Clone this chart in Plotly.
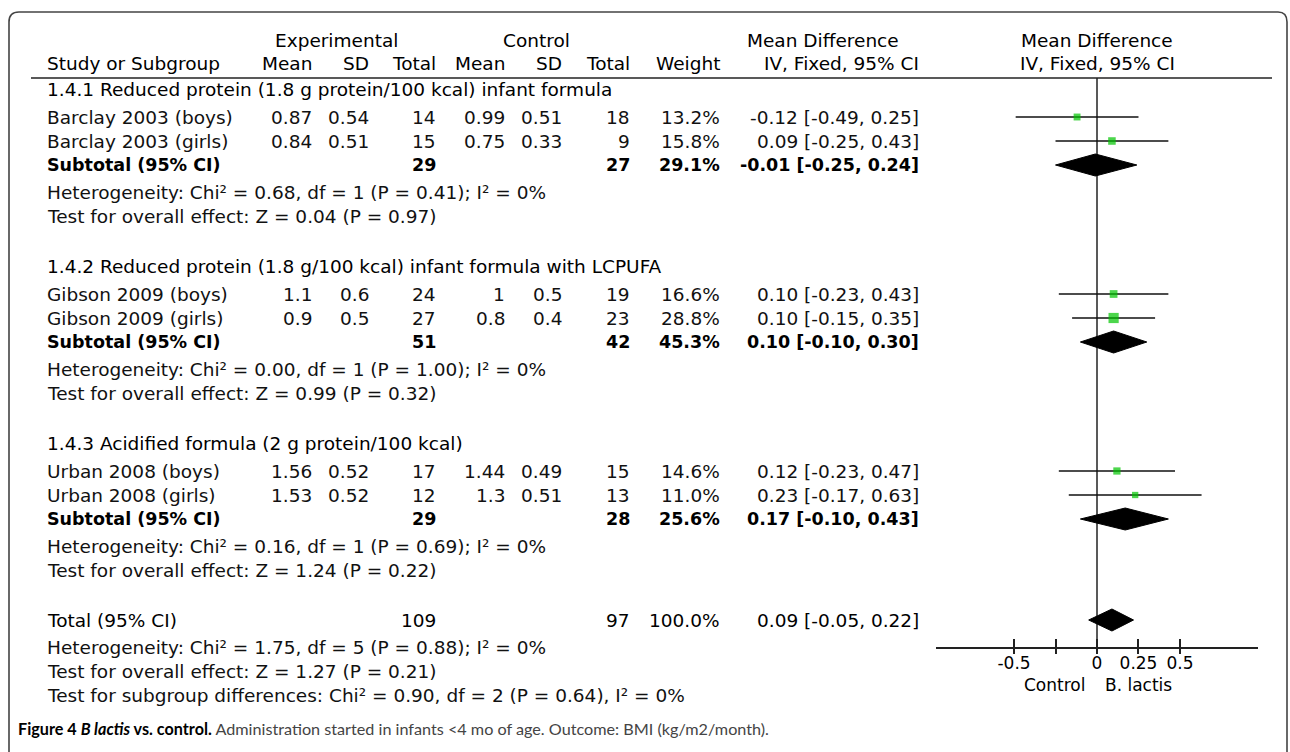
import plotly.graph_objects as go
import math

W, H = 1290, 752

# ---------------- data ----------------
group_titles = [
    "1.4.1 Reduced protein (1.8 g protein/100 kcal) infant formula",
    "1.4.2 Reduced protein (1.8 g/100 kcal) infant formula with LCPUFA",
    "1.4.3 Acidified formula (2 g protein/100 kcal)",
]
study_group = [0, 0, 1, 1, 2, 2]
study_names = ["Barclay 2003 (boys)", "Barclay 2003 (girls)",
               "Gibson 2009 (boys)", "Gibson 2009 (girls)",
               "Urban 2008 (boys)", "Urban 2008 (girls)"]
exp_mean = [0.87, 0.84, 1.1, 0.9, 1.56, 1.53]
exp_sd = [0.54, 0.51, 0.6, 0.5, 0.52, 0.52]
exp_n = [14, 15, 24, 27, 17, 12]
ctrl_mean = [0.99, 0.75, 1, 0.8, 1.44, 1.3]
ctrl_sd = [0.51, 0.33, 0.5, 0.4, 0.49, 0.51]
ctrl_n = [18, 9, 19, 23, 15, 13]
weight = [13.2, 15.8, 16.6, 28.8, 14.6, 11.0]
md = [-0.12, 0.09, 0.10, 0.10, 0.12, 0.23]
md_lo = [-0.49, -0.25, -0.23, -0.15, -0.23, -0.17]
md_hi = [0.25, 0.43, 0.43, 0.35, 0.47, 0.63]

sub_exp_n = [29, 51, 29]
sub_ctrl_n = [27, 42, 28]
sub_weight = [29.1, 45.3, 25.6]
sub_md = [-0.01, 0.10, 0.17]
sub_lo = [-0.25, -0.10, -0.10]
sub_hi = [0.24, 0.30, 0.43]
sub_het = ["Heterogeneity: Chi² = 0.68, df = 1 (P = 0.41); I² = 0%",
           "Heterogeneity: Chi² = 0.00, df = 1 (P = 1.00); I² = 0%",
           "Heterogeneity: Chi² = 0.16, df = 1 (P = 0.69); I² = 0%"]
sub_test = ["Test for overall effect: Z = 0.04 (P = 0.97)",
            "Test for overall effect: Z = 0.99 (P = 0.32)",
            "Test for overall effect: Z = 1.24 (P = 0.22)"]

total_exp_n = 109
total_ctrl_n = 97
total_weight = 100.0
total_md = 0.09
total_lo = -0.05
total_hi = 0.22
total_het = "Heterogeneity: Chi² = 1.75, df = 5 (P = 0.88); I² = 0%"
total_test = "Test for overall effect: Z = 1.27 (P = 0.21)"
subgroup_test = "Test for subgroup differences: Chi² = 0.90, df = 2 (P = 0.64), I² = 0%"

tick_vals = [-0.5, -0.25, 0, 0.25, 0.5]
tick_text = ["-0.5", "", "0", "0.25", "0.5"]
left_label = "Control"
right_label = "B. lactis"
caption = ("<span style='color:#000'><b>Figure 4 <i>B lactis</i> vs. control.</b></span> "
           "Administration started in infants &lt;4 mo of age. Outcome: BMI (kg/m2/month).")

# ---------------- layout constants ----------------
FONT = "'DejaVu Sans', Verdana, sans-serif"
FS = 18.5
FS_BOLD = 17.5
GREEN = "#00c400"
X_RANGE = [-0.97, 0.97]
PLOT_L, PLOT_R = 936, 1258
AXIS_Y = 648
HEADER_LINE_Y = 78

# column anchors (pixels)
COL_LABEL = 45
COL_EM, COL_ESD, COL_EN = 314, 371, 438
COL_CM, COL_CSD, COL_CN = 507, 564, 632
COL_W, COL_CI = 722, 921
PLOT_HDR = 1097

# row layout
rows = []
y = 89
for g in range(3):
    rows.append(("group", g, y)); y += 28
    for i, sg in enumerate(study_group):
        if sg == g:
            rows.append(("study", i, y)); y += 24
    rows.append(("sub", g, y)); y += 27
    rows.append(("het", g, y)); y += 24
    rows.append(("test", g, y)); y += 50
rows.append(("total", None, y)); y += 27
rows.append(("thet", None, y)); y += 24
rows.append(("ttest", None, y)); y += 24
rows.append(("sgtest", None, y))

def fmt(v):
    return f"{v:g}"

def ci_text(m, lo, hi):
    return f"{m:.2f} [{lo:.2f}, {hi:.2f}]"

annotations = []

def txt(x, yv, s, anchor="left", weight=400, size=None, xref="paper", color="#000"):
    if size is None:
        size = FS_BOLD if weight >= 700 else FS
    annotations.append(dict(
        x=x / W if xref == "paper" else x, y=yv, xref=xref, yref="y",
        text=s, showarrow=False, xanchor=anchor, yanchor="middle",
        font=dict(family=FONT, size=size, color=color, weight=weight)))

HW = 400  # header weight
BW = 700  # subtotal weight
# headers
txt(336, 40, "Experimental", "center", HW)
txt(536, 40, "Control", "center", HW)
txt(823, 40, "Mean Difference", "center", HW)
txt(PLOT_HDR, 40, "Mean Difference", "center", HW)
txt(COL_LABEL, 63, "Study or Subgroup", weight=HW)
for x, s in [(COL_EM, "Mean"), (COL_ESD, "SD"), (COL_EN, "Total"),
             (COL_CM, "Mean"), (COL_CSD, "SD"), (COL_CN, "Total"),
             (COL_W, "Weight"), (COL_CI, "IV, Fixed, 95% CI")]:
    txt(x, 63, s, "right", HW)
txt(PLOT_HDR, 63, "IV, Fixed, 95% CI", "center", HW)

BODY = "#111"
study_y, sub_y, total_y = {}, {}, None
for kind, idx, yy in rows:
    if kind == "group":
        txt(COL_LABEL, yy, group_titles[idx])
    elif kind == "study":
        study_y[idx] = yy
        txt(COL_LABEL, yy, study_names[idx], color=BODY)
        txt(COL_EM, yy, fmt(exp_mean[idx]), "right", color=BODY)
        txt(COL_ESD, yy, fmt(exp_sd[idx]), "right", color=BODY)
        txt(COL_EN, yy, str(exp_n[idx]), "right", color=BODY)
        txt(COL_CM, yy, fmt(ctrl_mean[idx]), "right", color=BODY)
        txt(COL_CSD, yy, fmt(ctrl_sd[idx]), "right", color=BODY)
        txt(COL_CN, yy, str(ctrl_n[idx]), "right", color=BODY)
        txt(COL_W, yy, f"{weight[idx]:.1f}%", "right", color=BODY)
        txt(COL_CI, yy, ci_text(md[idx], md_lo[idx], md_hi[idx]), "right", color=BODY)
    elif kind == "sub":
        sub_y[idx] = yy
        txt(COL_LABEL, yy, "Subtotal (95% CI)", weight=BW)
        txt(COL_EN, yy, str(sub_exp_n[idx]), "right", BW)
        txt(COL_CN, yy, str(sub_ctrl_n[idx]), "right", BW)
        txt(COL_W, yy, f"{sub_weight[idx]:.1f}%", "right", BW)
        txt(COL_CI, yy, ci_text(sub_md[idx], sub_lo[idx], sub_hi[idx]), "right", BW)
    elif kind == "het":
        txt(COL_LABEL, yy, sub_het[idx], color=BODY)
    elif kind == "test":
        txt(COL_LABEL, yy, sub_test[idx], color=BODY)
    elif kind == "total":
        total_y = yy
        txt(COL_LABEL, yy, "Total (95% CI)")
        txt(COL_EN, yy, str(total_exp_n), "right")
        txt(COL_CN, yy, str(total_ctrl_n), "right")
        txt(COL_W, yy, f"{total_weight:.1f}%", "right")
        txt(COL_CI, yy, ci_text(total_md, total_lo, total_hi), "right")
    elif kind == "thet":
        txt(COL_LABEL, yy, total_het, color=BODY)
    elif kind == "ttest":
        txt(COL_LABEL, yy, total_test, color=BODY)
    elif kind == "sgtest":
        txt(COL_LABEL, yy, subgroup_test, color=BODY)

# favours labels
txt(-0.06, 685, left_label, "right", size=17, xref="x")
txt(0.035, 685, right_label, "left", size=17, xref="x")

# caption
annotations.append(dict(x=16 / W, y=728, xref="paper", yref="y", text=caption,
                        showarrow=False, xanchor="left", yanchor="middle",
                        font=dict(family="Lato, sans-serif", size=16.2, color="#444")))

fig = go.Figure()

# CI lines
for i in range(len(md)):
    fig.add_trace(go.Scatter(x=[md_lo[i], md_hi[i]], y=[study_y[i]] * 2, mode="lines",
                             line=dict(color="#111", width=1.6), hoverinfo="skip",
                             showlegend=False))
# squares
fig.add_trace(go.Scatter(
    x=md, y=[study_y[i] for i in range(len(md))], mode="markers",
    marker=dict(symbol="square", color=GREEN, size=[1.9 * math.sqrt(w) for w in weight],
                line=dict(width=0)),
    showlegend=False, hoverinfo="skip"))

# diamonds
def diamond(m, lo, hi, yc, half=11):
    fig.add_trace(go.Scatter(
        x=[lo, m, hi, m, lo], y=[yc, yc - half, yc, yc + half, yc],
        mode="lines", fill="toself", fillcolor="#000", line=dict(color="#000", width=1),
        showlegend=False, hoverinfo="skip"))

for g in range(3):
    diamond(sub_md[g], sub_lo[g], sub_hi[g], sub_y[g])
diamond(total_md, total_lo, total_hi, total_y)

shapes = [
    # header rule
    dict(type="line", xref="paper", yref="y", x0=31 / W, x1=1272 / W,
         y0=HEADER_LINE_Y, y1=HEADER_LINE_Y, line=dict(color="#222", width=1.5)),
    # line of no effect
    dict(type="line", xref="x", yref="y", x0=0, x1=0, y0=HEADER_LINE_Y, y1=AXIS_Y,
         line=dict(color="#222", width=1.5), layer="below"),
    # rounded frame
    dict(type="path", xref="paper", yref="y",
         path=(f"M {9 / W} 770 L {9 / W} 22 Q {9 / W} 12 {19 / W} 12 "
               f"L {1278 / W} 12 Q {1287 / W} 12 {1287 / W} 22 L {1287 / W} 770"),
         line=dict(color="#444", width=1.6)),
]

axis_pos = 1 - AXIS_Y / H
fig.update_layout(
    width=W, height=H, margin=dict(l=0, r=0, t=0, b=0),
    paper_bgcolor="white", plot_bgcolor="rgba(0,0,0,0)",
    annotations=annotations, shapes=shapes,
    xaxis=dict(domain=[PLOT_L / W, PLOT_R / W], range=X_RANGE, anchor="free",
               position=axis_pos, showgrid=False, zeroline=False,
               showline=True, linecolor="#222", linewidth=1.5,
               ticks="inside", ticklen=8, tickwidth=1.5, tickcolor="#222",
               tickvals=tick_vals, ticktext=tick_text,
               tickfont=dict(family=FONT, size=17, color="#000")),
    xaxis2=dict(overlaying="x", matches="x", anchor="free", position=axis_pos,
                showgrid=False, zeroline=False, showline=False,
                ticks="outside", ticklen=5, tickwidth=1.5, tickcolor="#222",
                tickvals=tick_vals, showticklabels=False),
    yaxis=dict(domain=[0, 1], range=[H, 0], visible=False, fixedrange=True),
)
# invisible point to activate the overlay axis with the downward tick stubs
fig.add_trace(go.Scatter(x=[0], y=[-100], xaxis="x2", mode="markers",
                         marker=dict(opacity=0), showlegend=False, hoverinfo="skip"))

fig.write_html("out.html", config={"displayModeBar": False},
               post_script="document.body.style.margin='0px';")
